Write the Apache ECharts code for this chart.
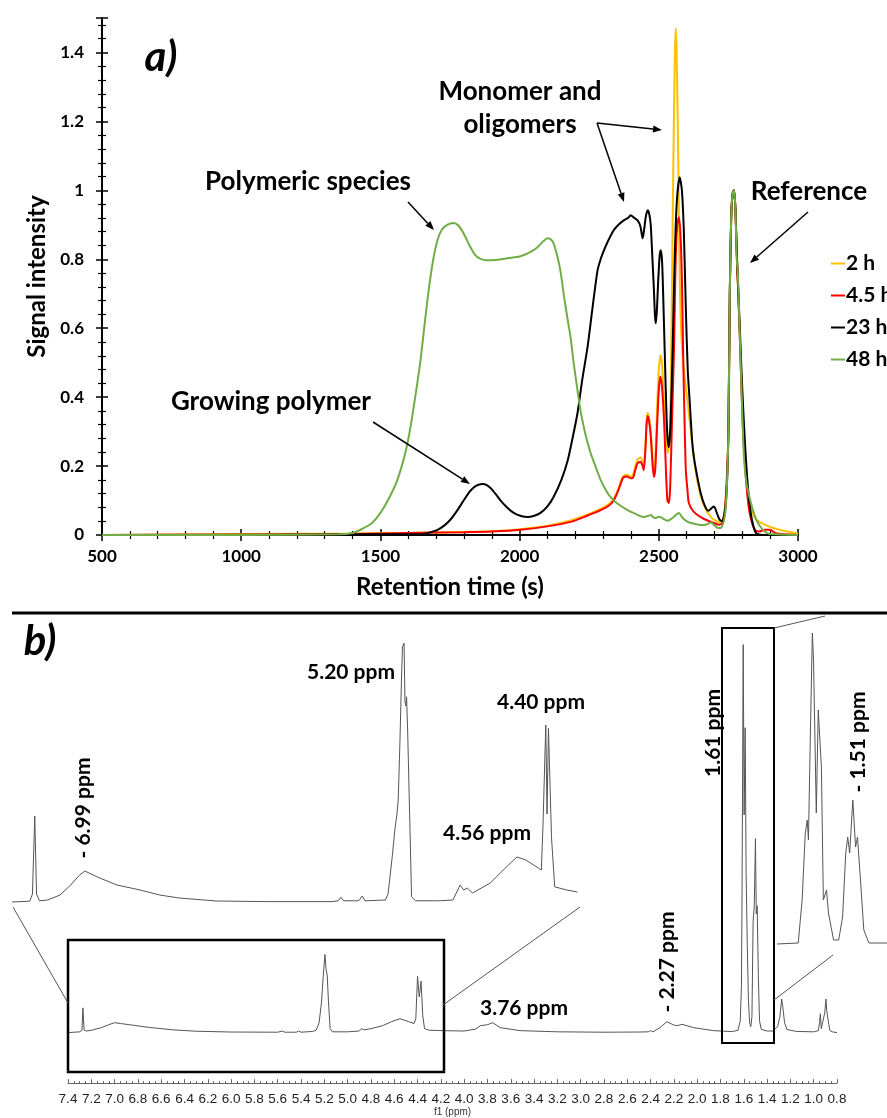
<!DOCTYPE html>
<html>
<head>
<meta charset="utf-8">
<script src="https://cdn.jsdelivr.net/npm/echarts@6/dist/echarts.min.js"></script>
<style>
  html, body { margin: 0; padding: 0; background: #fff; }
  #main { width: 887px; height: 1118px; }
</style>
</head>
<body>
<div id="main"></div>
<script>
// ---- a) GPC traces: [retention time (s), signal intensity] ----
var trace2h = [[500,0],[1000,0.003],[1400,0.004],[1600,0.006],[1800,0.009],[1900,0.011],[2003,0.017],[2100,0.027],[2183,0.042],[2240,0.058],[2291,0.076],[2320,0.09],[2338,0.105],[2355,0.135],[2368,0.165],[2374,0.172],[2385,0.175],[2398,0.17],[2406,0.172],[2416,0.2],[2424,0.22],[2435,0.225],[2442,0.212],[2446,0.2],[2452,0.26],[2456,0.33],[2460,0.355],[2465,0.34],[2471,0.3],[2478,0.215],[2483,0.19],[2488,0.23],[2494,0.37],[2500,0.48],[2507,0.522],[2512,0.49],[2518,0.4],[2525,0.3],[2532,0.238],[2538,0.27],[2543,0.42],[2547,0.7],[2551,1.0],[2555,1.25],[2558,1.4],[2561,1.47],[2564,1.4],[2568,1.2],[2572,0.95],[2576,0.72],[2581,0.58],[2588,0.5],[2597,0.43],[2604,0.383],[2615,0.3],[2628,0.21],[2640,0.15],[2660,0.09],[2687,0.052],[2716,0.038],[2732,0.045],[2742,0.12],[2750,0.3],[2755,0.7],[2760,0.92],[2765,0.99],[2770,1.0],[2775,0.95],[2780,0.82],[2790,0.6],[2800,0.38],[2810,0.22],[2822,0.12],[2835,0.07],[2850,0.045],[2880,0.03],[2920,0.018],[2960,0.01],[3000,0.004]];

var trace4h = [[500,0],[1000,0.001],[1400,0.003],[1600,0.006],[1800,0.008],[1900,0.01],[2003,0.015],[2100,0.025],[2183,0.038],[2240,0.055],[2291,0.072],[2320,0.085],[2338,0.1],[2355,0.13],[2368,0.16],[2374,0.168],[2385,0.17],[2398,0.165],[2406,0.165],[2416,0.19],[2424,0.209],[2435,0.212],[2442,0.2],[2446,0.188],[2452,0.25],[2456,0.32],[2460,0.345],[2465,0.33],[2471,0.29],[2478,0.2],[2483,0.168],[2488,0.2],[2494,0.32],[2500,0.42],[2505,0.46],[2510,0.44],[2515,0.39],[2520,0.31],[2526,0.18],[2531,0.1],[2536,0.093],[2541,0.14],[2548,0.35],[2555,0.55],[2560,0.78],[2566,0.9],[2572,0.922],[2578,0.87],[2583,0.74],[2588,0.5],[2592,0.35],[2597,0.19],[2603,0.13],[2608,0.093],[2625,0.068],[2651,0.052],[2675,0.042],[2698,0.035],[2715,0.03],[2728,0.035],[2740,0.1],[2750,0.3],[2755,0.7],[2760,0.92],[2765,0.99],[2770,1.0],[2775,0.95],[2780,0.82],[2790,0.6],[2800,0.35],[2810,0.2],[2820,0.1],[2830,0.05],[2845,0.015],[2860,0.01],[2880,0.015],[2900,0.015],[2920,0.005],[3000,0]];

var trace23h = [[500,0],[1650,0.003],[1705,0.015],[1730,0.028],[1752,0.045],[1775,0.07],[1799,0.1],[1820,0.125],[1835,0.138],[1850,0.145],[1867,0.148],[1882,0.145],[1896,0.136],[1915,0.118],[1932,0.1],[1955,0.08],[1979,0.064],[2005,0.055],[2029,0.052],[2050,0.055],[2075,0.064],[2100,0.083],[2122,0.11],[2150,0.16],[2173,0.217],[2190,0.28],[2208,0.354],[2225,0.45],[2244,0.545],[2262,0.66],[2280,0.768],[2291,0.8],[2300,0.82],[2316,0.85],[2338,0.884],[2355,0.9],[2374,0.913],[2390,0.92],[2399,0.928],[2412,0.92],[2424,0.913],[2434,0.895],[2442,0.861],[2448,0.89],[2453,0.922],[2460,0.942],[2466,0.93],[2471,0.9],[2476,0.82],[2482,0.72],[2486,0.64],[2489,0.614],[2493,0.65],[2498,0.74],[2503,0.81],[2507,0.826],[2512,0.79],[2518,0.63],[2524,0.45],[2530,0.3],[2536,0.255],[2542,0.32],[2550,0.55],[2557,0.8],[2565,0.97],[2575,1.038],[2583,1.0],[2590,0.88],[2597,0.66],[2604,0.478],[2610,0.4],[2615,0.333],[2620,0.27],[2626,0.226],[2638,0.17],[2651,0.12],[2665,0.085],[2678,0.07],[2690,0.078],[2698,0.083],[2708,0.065],[2718,0.045],[2728,0.04],[2738,0.07],[2745,0.15],[2750,0.3],[2755,0.7],[2760,0.92],[2765,0.99],[2770,1.0],[2775,0.95],[2780,0.82],[2790,0.62],[2800,0.42],[2810,0.26],[2820,0.14],[2830,0.065],[2840,0.025],[2850,0.005],[2870,0],[3000,0]];

var trace48h = [[500,0],[1000,0],[1350,0.002],[1400,0.006],[1430,0.016],[1470,0.035],[1500,0.064],[1530,0.105],[1561,0.16],[1590,0.24],[1608,0.313],[1625,0.4],[1644,0.507],[1660,0.62],[1675,0.72],[1690,0.8],[1705,0.855],[1720,0.885],[1740,0.9],[1762,0.905],[1780,0.898],[1799,0.875],[1820,0.84],[1840,0.813],[1860,0.801],[1880,0.797],[1900,0.797],[1930,0.799],[1957,0.803],[2000,0.808],[2029,0.817],[2060,0.832],[2085,0.852],[2101,0.861],[2112,0.858],[2122,0.846],[2135,0.81],[2147,0.765],[2160,0.69],[2173,0.623],[2183,0.574],[2194,0.5],[2208,0.42],[2219,0.36],[2237,0.29],[2255,0.238],[2270,0.205],[2291,0.16],[2310,0.13],[2327,0.11],[2350,0.092],[2388,0.072],[2420,0.06],[2446,0.052],[2460,0.055],[2471,0.058],[2480,0.052],[2489,0.049],[2498,0.053],[2507,0.052],[2520,0.045],[2532,0.041],[2550,0.05],[2572,0.064],[2585,0.05],[2604,0.038],[2630,0.032],[2651,0.029],[2670,0.03],[2687,0.036],[2700,0.028],[2712,0.02],[2725,0.022],[2738,0.06],[2745,0.15],[2750,0.3],[2755,0.7],[2760,0.92],[2765,0.99],[2770,1.0],[2775,0.95],[2780,0.8],[2784,0.76],[2790,0.6],[2795,0.478],[2800,0.35],[2806,0.226],[2815,0.15],[2831,0.093],[2845,0.055],[2856,0.035],[2880,0.01],[2900,0.003],[3000,0]];

var traceNames = ['2 h', '4.5 h', '23 h', '48 h'];
var traceColors = ['#FFC000', '#FF0000', '#000000', '#70AD47'];

// ---- b) 1H NMR: [shift (ppm), intensity (a.u.)] ----
var nmrFull = [[7.4,0],[7.3,0.2],[7.28,0.6],[7.272,6.25],[7.262,0.6],[7.24,0.4],[7.2,0.6],[7.12,1.2],[7.05,2],[7.0,2.5],[6.95,2.3],[6.85,1.9],[6.7,1.3],[6.5,0.7],[6.3,0.35],[6.0,0.15],[5.6,0.1],[5.56,0.4],[5.54,0.1],[5.44,0.1],[5.42,0.4],[5.4,0.1],[5.3,0.3],[5.27,0.6],[5.245,2.5],[5.225,7.5],[5.21,14],[5.195,19.75],[5.185,16],[5.175,14.5],[5.165,8],[5.15,1],[5.13,0.2],[5.0,0.2],[4.9,0.4],[4.88,1],[4.86,0.7],[4.8,1.0],[4.7,1.75],[4.62,2.8],[4.55,3.5],[4.48,2.8],[4.43,2.3],[4.415,3.5],[4.4,14.25],[4.385,9],[4.37,13],[4.355,4.25],[4.34,1],[4.3,0.6],[4.18,0.5],[4.0,0.4],[3.9,0.9],[3.86,1.75],[3.8,2],[3.755,2.5],[3.69,1.25],[3.52,0.5],[3.2,0.2],[2.8,0.1],[2.5,0.15],[2.42,0.2],[2.4,0.5],[2.38,0.2],[2.32,1.25],[2.26,2.75],[2.2,1.9],[2.17,1.75],[2.13,2.1],[2.03,1.25],[1.86,0.5],[1.7,0.25],[1.65,0.6],[1.63,3],[1.62,12],[1.615,35],[1.605,98],[1.597,55],[1.588,77],[1.58,40],[1.57,22],[1.56,8],[1.55,2.5],[1.54,1.5],[1.53,4],[1.52,28],[1.51,32],[1.5,49],[1.493,30],[1.485,32],[1.475,14],[1.465,3],[1.45,0.8],[1.4,0.4],[1.35,0.4],[1.31,1.5],[1.29,4],[1.275,8.5],[1.265,6.5],[1.25,2.5],[1.23,0.8],[1.15,0.3],[1.0,0.2],[0.96,0.5],[0.95,2.5],[0.943,4.75],[0.935,1],[0.92,1.5],[0.905,5],[0.895,8.5],[0.888,5.5],[0.882,6],[0.87,2],[0.86,0.5],[0.84,0.2],[0.8,0]];

var nmrZoomLeft = [[7.4,0],[7.3,0.2],[7.285,2],[7.272,21.5],[7.262,2],[7.245,0.3],[7.2,0.5],[7.13,1.75],[7.07,4.25],[7.02,6.75],[6.99,7.75],[6.92,6.25],[6.81,4.25],[6.68,3],[6.57,1.75],[6.46,1],[6.25,0.25],[5.97,0.1],[5.6,0.1],[5.565,0.3],[5.55,1.2],[5.535,0.3],[5.45,0.3],[5.43,1.5],[5.415,0.3],[5.3,0.5],[5.285,2],[5.275,6],[5.26,12],[5.247,18],[5.235,22],[5.228,25.5],[5.219,38.8],[5.21,55],[5.204,63.8],[5.195,64.7],[5.19,50],[5.185,49],[5.181,51.3],[5.175,43],[5.16,15],[5.153,1.3],[5.13,0.3],[5.0,0.3],[4.92,0.5],[4.88,4.25],[4.86,3],[4.84,3.5],[4.81,2.25],[4.71,4.75],[4.62,8.75],[4.56,11.25],[4.51,10.5],[4.44,8.5],[4.423,8],[4.414,18.8],[4.398,44.25],[4.391,22],[4.383,43.4],[4.366,16.3],[4.348,3.8],[4.28,3],[4.22,2.5]];

var nmrZoomRight = [[1.69,0],[1.636,0.25],[1.626,11],[1.618,27.75],[1.613,31],[1.61,26],[1.605,52.75],[1.6,77.75],[1.597,71],[1.59,32.75],[1.585,58.5],[1.577,44.25],[1.572,11],[1.564,13.5],[1.559,7.75],[1.546,1],[1.533,1],[1.523,6.75],[1.515,22.75],[1.51,26.75],[1.505,22.75],[1.497,36],[1.49,24.25],[1.485,26.75],[1.477,15.25],[1.469,3.5],[1.456,0.25],[1.41,0.25]];

var FONT = 'Lato, "Open Sans", sans-serif';
var NMR_FONT = '"Liberation Sans", Arial, sans-serif';
var NMR_GREY = '#555';

function txt(text, x, y, size, extra) {
    var el = {
        type: 'text', x: x, y: y, z: 100,
        style: {
            text: text, fill: '#000', align: 'center', verticalAlign: 'middle',
            font: 'bold ' + size + 'px ' + FONT
        }
    };
    if (extra) {
        for (var k in extra) el[k] = extra[k];
    }
    return el;
}

function italicTxt(text, x, y, size) {
    var el = txt(text, x, y, size);
    el.style.font = 'italic bold ' + size + 'px ' + FONT;
    return el;
}

function arrow(x1, y1, x2, y2) {
    var a = Math.atan2(y2 - y1, x2 - x1), L = 9, W = 3.5;
    var bx = x2 - L * Math.cos(a), by = y2 - L * Math.sin(a);
    var nx = -Math.sin(a) * W, ny = Math.cos(a) * W;
    return [
        { type: 'line', z: 100, shape: { x1: x1, y1: y1, x2: bx, y2: by }, style: { stroke: '#000', lineWidth: 1.5 } },
        { type: 'polygon', z: 100, shape: { points: [[x2, y2], [bx + nx, by + ny], [bx - nx, by - ny]] }, style: { fill: '#000' } }
    ];
}

function seg(x1, y1, x2, y2, w, c) {
    return { type: 'line', z: 90, shape: { x1: x1, y1: y1, x2: x2, y2: y2 }, style: { stroke: c || NMR_GREY, lineWidth: w || 1 } };
}

function box(x, y, w, h, lw) {
    return { type: 'rect', z: 90, shape: { x: x, y: y, width: w, height: h }, style: { fill: null, stroke: '#000', lineWidth: lw } };
}

var graphics = [
    italicTxt('a)', 161, 57, 42),
    txt('Monomer and', 520, 92, 26),
    txt('oligomers', 520, 125, 26),
    txt('Polymeric species', 308, 182, 26),
    txt('Reference', 809, 192, 26),
    txt('Growing polymer', 271, 402, 26),
    seg(12, 613, 887, 613, 3, '#000'),
    italicTxt('b)', 40, 641, 42),
    txt('5.20 ppm', 351, 672, 21),
    txt('4.40 ppm', 541, 702, 21),
    txt('4.56 ppm', 487, 833, 21),
    txt('3.76 ppm', 524, 1008, 21),
    txt('- 6.99 ppm', 83, 808, 21, { rotation: Math.PI / 2 }),
    txt('1.61 ppm', 713, 733, 21, { rotation: Math.PI / 2 }),
    txt('- 1.51 ppm', 858, 742, 21, { rotation: Math.PI / 2 }),
    txt('- 2.27 ppm', 667, 962, 21, { rotation: Math.PI / 2 }),
    box(68, 940, 376, 132, 2.5),
    box(722, 628, 52, 415, 2),
    seg(13, 907, 68, 1003),
    seg(443, 1005, 580, 907),
    seg(774, 628, 825, 616),
    seg(774, 1000, 833, 955)
]
    .concat(arrow(408, 202, 434, 230))
    .concat(arrow(597, 123, 662, 130))
    .concat(arrow(597, 123, 624, 202))
    .concat(arrow(808, 212, 750, 263))
    .concat(arrow(373, 422, 470, 484));

var chart = echarts.init(document.getElementById('main'));

var topLabel = { color: '#000', fontWeight: 'bold', fontSize: 17, fontFamily: FONT };

var option = {
    animation: false,
    backgroundColor: '#fff',
    textStyle: { fontFamily: FONT },
    color: traceColors,
    legend: {
        data: traceNames,
        orient: 'vertical',
        left: 826,
        top: 248,
        icon: 'rect',
        itemWidth: 14,
        itemHeight: 2,
        itemGap: 11,
        padding: 5,
        textStyle: { color: '#000', fontWeight: 'bold', fontSize: 21, lineHeight: 20, fontFamily: FONT, padding: [0, 0, 0, -4] }
    },
    grid: [
        { left: 102, top: 18, width: 696, height: 517 },
        { left: 68, top: 600, width: 769, height: 488 },
        { left: 12, top: 640, width: 569, height: 270 },
        { left: 777, top: 600, width: 110, height: 350 }
    ],
    xAxis: [
        {
            gridIndex: 0, type: 'value', min: 500, max: 3000, interval: 500,
            name: 'Retention time (s)', nameLocation: 'middle', nameGap: 40,
            nameTextStyle: { color: '#000', fontWeight: 'bold', fontSize: 24, fontFamily: FONT },
            axisLine: { lineStyle: { color: '#000', width: 2 } },
            axisTick: { length: 6, lineStyle: { color: '#000', width: 1.5 } },
            minorTick: { show: true, splitNumber: 5, length: 4, lineStyle: { color: '#000', width: 1.2 } },
            axisLabel: Object.assign({ margin: 13, formatter: function (v) { return String(v); } }, topLabel),
            splitLine: { show: false }
        },
        {
            gridIndex: 0, type: 'value', min: 500, max: 3000, interval: 500, position: 'bottom',
            axisLine: { show: false },
            axisTick: { inside: true, length: 6, lineStyle: { color: '#000', width: 1.5 } },
            minorTick: { show: true, splitNumber: 5, length: 4, lineStyle: { color: '#000', width: 1.2 } },
            axisLabel: { show: false },
            splitLine: { show: false }
        },
        {
            gridIndex: 1, type: 'value', min: 0.8, max: 7.4, interval: 0.2, inverse: true,
            name: 'f1 (ppm)', nameLocation: 'middle', nameGap: 21,
            nameTextStyle: { color: '#333', fontSize: 10, fontFamily: NMR_FONT },
            axisLine: { onZero: false, lineStyle: { color: '#666', width: 1 } },
            axisTick: { inside: true, length: 4, lineStyle: { color: '#666' } },
            minorTick: { show: true, splitNumber: 4, length: 2, lineStyle: { color: '#666' } },
            axisLabel: {
                color: '#222', fontSize: 13.5, margin: 9, fontFamily: NMR_FONT,
                formatter: function (v) { return v.toFixed(1); }
            },
            splitLine: { show: false }
        },
        { gridIndex: 2, type: 'value', min: 4.2, max: 7.4, inverse: true, show: false },
        { gridIndex: 3, type: 'value', min: 1.41, max: 1.69, inverse: true, show: false }
    ],
    yAxis: [
        {
            gridIndex: 0, type: 'value', min: 0, max: 1.5, interval: 0.2,
            name: 'Signal intensity', nameLocation: 'middle', nameGap: 50, nameRotate: 90,
            nameTextStyle: { color: '#000', fontWeight: 'bold', fontSize: 24, fontFamily: FONT },
            axisLine: { show: true, lineStyle: { color: '#000', width: 2 } },
            axisTick: { show: true, length: 6, lineStyle: { color: '#000', width: 1.5 } },
            minorTick: { show: true, splitNumber: 5, length: 4, lineStyle: { color: '#000', width: 1.2 } },
            axisLabel: Object.assign({ margin: 18, showMaxLabel: false }, topLabel),
            splitLine: { show: false }
        },
        {
            gridIndex: 0, type: 'value', min: 0, max: 1.5, interval: 0.2, position: 'left',
            axisLine: { show: false },
            axisTick: { show: true, inside: true, length: 6, lineStyle: { color: '#000', width: 1.5 } },
            minorTick: { show: true, splitNumber: 5, length: 4, lineStyle: { color: '#000', width: 1.2 } },
            axisLabel: { show: false },
            splitLine: { show: false }
        },
        { gridIndex: 1, type: 'value', min: -12.75, max: 109.25, show: false },
        { gridIndex: 2, type: 'value', min: -2, max: 65.5, show: false },
        { gridIndex: 3, type: 'value', min: -1.5, max: 86, show: false }
    ],
    series: [
        { name: traceNames[0], type: 'line', data: trace2h, xAxisIndex: 0, yAxisIndex: 0, showSymbol: false, smooth: 0.25, lineStyle: { width: 2 } },
        { name: traceNames[1], type: 'line', data: trace4h, xAxisIndex: 0, yAxisIndex: 0, showSymbol: false, smooth: 0.25, lineStyle: { width: 2 } },
        { name: traceNames[2], type: 'line', data: trace23h, xAxisIndex: 0, yAxisIndex: 0, showSymbol: false, smooth: 0.25, lineStyle: { width: 2 } },
        { name: traceNames[3], type: 'line', data: trace48h, xAxisIndex: 0, yAxisIndex: 0, showSymbol: false, smooth: 0.25, lineStyle: { width: 2 } },
        { name: 'NMR', type: 'line', data: nmrFull, xAxisIndex: 2, yAxisIndex: 2, showSymbol: false, lineStyle: { width: 1, color: NMR_GREY }, itemStyle: { color: NMR_GREY } },
        { name: 'NMR zoom 7.4-4.2', type: 'line', data: nmrZoomLeft, xAxisIndex: 3, yAxisIndex: 3, showSymbol: false, lineStyle: { width: 1, color: NMR_GREY }, itemStyle: { color: NMR_GREY } },
        { name: 'NMR zoom 1.7-1.4', type: 'line', data: nmrZoomRight, xAxisIndex: 4, yAxisIndex: 4, showSymbol: false, lineStyle: { width: 1, color: NMR_GREY }, itemStyle: { color: NMR_GREY } }
    ],
    graphic: graphics
};

chart.setOption(option);
</script>
</body>
</html>
